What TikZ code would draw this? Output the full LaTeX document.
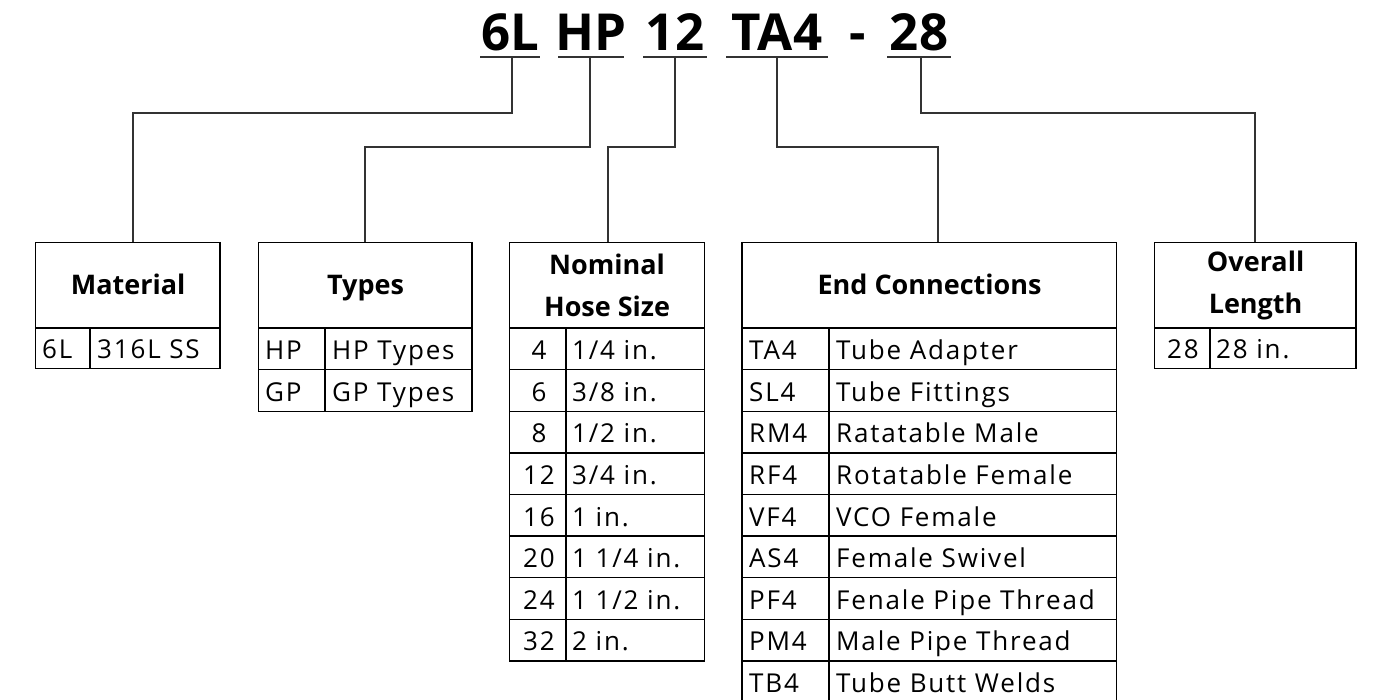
\documentclass[tikz,border=0pt]{standalone}
\usepackage{fontspec}
\setmainfont{Open Sans}
\newfontfamily\bodyfont[LetterSpace=7]{Open Sans}
\begin{document}
\begin{tikzpicture}[x=1pt,y=-1pt,
  ttl/.style={font=\fontsize{51}{51}\selectfont\bfseries, inner sep=0pt, anchor=base},
  uline/.style={draw=black!80, line width=2pt},
  link/.style={draw=black!80, line width=1.4pt},
  hdr/.style={draw, line width=1.2pt, font=\fontsize{27}{42}\selectfont\bfseries, align=center, inner sep=0pt, anchor=north west},
  hdr1/.style={hdr, text height=24pt, text depth=6pt},
  cell/.style={font=\bodyfont\fontsize{26}{26}\selectfont, inner sep=0pt, anchor=base west},
  ccell/.style={cell, anchor=base},
  thinln/.style={line width=1pt},
  thickln/.style={line width=2.4pt}]
\clip (0,0) rectangle (1382,700);
\fill[white] (0,0) rectangle (1382,700);

% ---------- title ----------
\node[ttl] (tA) at (510,51) {6L};
\node[ttl] (tB) at (591,51) {HP};
\node[ttl] (tC) at (675,51) {12};
\node[ttl] (tD) at (777,51) {TA4};
\node[ttl] (tE) at (858,51) {-};
\node[ttl] (tF) at (919,51) {28};
\draw[uline] (480,57) -- (540,57);
\draw[uline] (558,57) -- (624,57);
\draw[uline] (643,57) -- (707,57);
\draw[uline] (726,57) -- (828,57);
\draw[uline] (887,57) -- (951,57);
\coordinate (uA) at (512,57);
\coordinate (uB) at (590,57);
\coordinate (uC) at (675,57);
\coordinate (uD) at (777,57);
\coordinate (uF) at (921,57);
\coordinate (bA) at (133,113);
\coordinate (bB) at (365,147);
\coordinate (bC) at (608,147);
\coordinate (bD) at (938,147);
\coordinate (bF) at (1255,113);

% ---------- Material ----------
\node[hdr1, minimum width=185, minimum height=86] (mat) at (35,242) {Material};
\draw[thinln] (35,328) rectangle (220,369);
\node[cell] (matc1) at (42,359) {6L};
\node[cell] (matd1) at (97,359) {316L SS};
\draw[thickln] (90,328) -- (90,369);
\draw[thickln] (35,328) -- (220,328);
\draw[thickln] (220,242) -- (220,369);

% ---------- Types ----------
\node[hdr1, minimum width=214, minimum height=86] (typ) at (258,242) {Types};
\foreach \c/\d [count=\i] in {HP/{HP Types},GP/{GP Types}}{
  \pgfmathsetmacro\yt{328+(\i-1)*42}
  \pgfmathsetmacro\yb{\yt+42}
  \draw[thinln] (258,\yt) rectangle (472,\yb);
  \node[cell] (typc\i) at (265,\yb-10) {\c};
  \node[cell] (typd\i) at (332,\yb-10) {\d};
}
\draw[thickln] (325,328) -- (325,412);
\draw[thickln] (258,328) -- (472,328);
\draw[thickln] (472,242) -- (472,412);

% ---------- Nominal Hose Size ----------
\node[hdr, minimum width=195, minimum height=86] (nom) at (509,242) {Nominal\\Hose Size};
\foreach \c/\d [count=\i] in {4/{1/4 in.},6/{3/8 in.},8/{1/2 in.},12/{3/4 in.},16/{1 in.},20/{1 1/4 in.},24/{1 1/2 in.},32/{2 in.}}{
  \pgfmathsetmacro\yt{328+(\i-1)*41.6}
  \pgfmathsetmacro\yb{\yt+41.6}
  \draw[thinln] (509,\yt) rectangle (704,\yb);
  \node[ccell] (nomc\i) at (539,\yb-10) {\c};
  \node[cell] (nomd\i) at (572,\yb-10) {\d};
}
\draw[thickln] (566,328) -- (566,661);
\foreach \y in {328,452.8,536,660.8} \draw[thickln] (509,\y) -- (705,\y);

% ---------- End Connections ----------
\node[hdr1, minimum width=374, minimum height=86] (endc) at (742,242) {End Connections};
\foreach \c/\d [count=\i] in {TA4/{Tube Adapter},SL4/{Tube Fittings},RM4/{Ratatable Male},RF4/{Rotatable Female},VF4/{VCO Female},AS4/{Female Swivel},PF4/{Fenale Pipe Thread},PM4/{Male Pipe Thread},TB4/{Tube Butt Welds}}{
  \pgfmathsetmacro\yt{328+(\i-1)*41.6}
  \pgfmathsetmacro\yb{\yt+41.6}
  \draw[thinln] (742,\yt) rectangle (1116,\yb);
  \node[cell] (endcc\i) at (749,\yb-10) {\c};
  \node[cell] (endcd\i) at (836,\yb-10) {\d};
}
\draw[thickln] (829,328) -- (829,710);
\draw[thickln] (742,242) -- (742,710);
\foreach \y in {328,452.8,536,660.8} \draw[thickln] (742,\y) -- (1117,\y);

% ---------- Overall Length ----------
\node[hdr, minimum width=202, minimum height=86] (ovl) at (1154,242) {Overall\\Length};
\draw[thinln] (1154,328) rectangle (1356,369);
\node[ccell] (ovlc1) at (1183,359) {28};
\node[cell] (ovld1) at (1216,359) {28 in.};
\draw[thickln] (1210,328) -- (1210,369);
\draw[thickln] (1154,328) -- (1356,328);
\draw[thickln] (1356,242) -- (1356,369);

% ---------- connectors ----------
\draw[link] (uA) |- (bA) -- (bA |- mat.north);
\draw[link] (uB) |- (bB) -- (bB |- typ.north);
\draw[link] (uC) |- (bC) -- (bC |- nom.north);
\draw[link] (uD) |- (bD) -- (bD |- endc.north);
\draw[link] (uF) |- (bF) -- (bF |- ovl.north);
\end{tikzpicture}
\end{document}
